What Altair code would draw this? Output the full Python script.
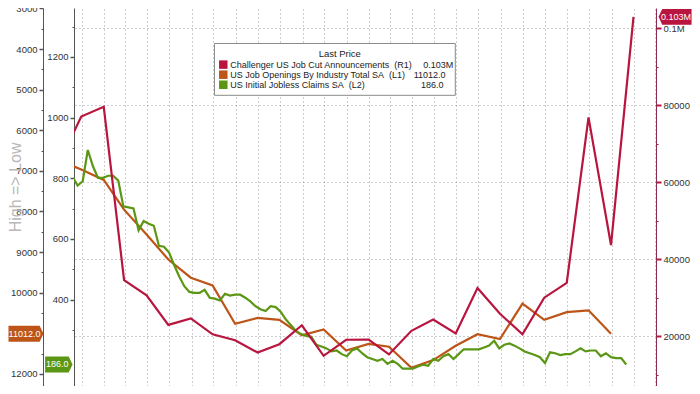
import altair as alt
import pandas as pd

# ---------------- data ----------------
month_ends = ["2020-11-30", "2020-12-31", "2021-01-31", "2021-02-28", "2021-03-31",
              "2021-04-30", "2021-05-31", "2021-06-30", "2021-07-31", "2021-08-31",
              "2021-09-30", "2021-10-31", "2021-11-30", "2021-12-31", "2022-01-31",
              "2022-02-28", "2022-03-31", "2022-04-30", "2022-05-31", "2022-06-30",
              "2022-07-31", "2022-08-31", "2022-09-30", "2022-10-31", "2022-11-30",
              "2022-12-31", "2023-01-31"]

# Challenger US Job Cut Announcements (R1), monthly
challenger_cuts = [64797, 77030, 79552, 34531, 30603, 22913, 24586, 20476, 18942, 15723,
                   17895, 22822, 14875, 19052, 19064, 15245, 21387, 24286, 20712, 32517,
                   25810, 20485, 29989, 33843, 76835, 43651, 102943]

# US Job Openings By Industry Total SA (L1), monthly (Nov 2020 - Dec 2022)
job_openings = [6740, 6964, 7224, 7955, 8569, 9182, 9630, 9819, 10763, 10621,
                10669, 11046, 10905, 11424, 11259, 11330, 11849, 11660, 11306, 11023,
                11140, 10268, 10669, 10480, 10433, 11012]

# US Initial Jobless Claims SA (L2), weekly from week ending 2020-12-19
claims_first_week = "2020-12-19"
jobless_claims = [805, 776, 790, 893, 840, 801, 801, 808, 808, 792,
                  707, 704, 700, 628, 659, 650, 643, 577, 574, 555,
                  514, 476, 444, 425, 422, 422, 432, 406, 403, 397,
                  419, 413, 416, 416, 406, 394, 378, 368, 362, 378,
                  375, 359, 334, 315, 296, 286, 280, 277, 251, 245,
                  239, 229, 232, 220, 213, 232, 239, 223, 210, 204,
                  198, 204, 188, 198, 188, 172, 172, 172, 179, 185,
                  182, 204, 198, 213, 220, 204, 220, 236, 236, 236,
                  236, 242, 248, 264, 239, 251, 255, 248, 239, 229,
                  223, 217, 210, 191, 226, 223, 217, 220, 220, 229,
                  239, 229, 232, 232, 213, 223, 210, 207, 207, 186]

series_names = ["Challenger US Job Cut Announcements", "US Job Openings By Industry Total SA",
                "US Initial Jobless Claims SA"]
series_tags = ["(R1)", "(L1)", "(L2)"]
last_values = ["0.103M", "11012.0", "186.0"]
legend_title = "Last Price"
axis_title = "High => Low"

orange_ticks = list(range(3000, 12001, 1000))
orange_minor = list(range(3500, 12001, 1000))
green_ticks = list(range(400, 1201, 200))
green_minor = list(range(300, 1301, 200))
red_ticks = list(range(20000, 100001, 20000))
red_minor = list(range(10000, 100001, 20000))
grid_months = [(2021, m) for m in range(1, 13)] + [(2022, m) for m in range(1, 13)] + \
              [(2023, 1), (2023, 2), (2023, 3)]

# ---------------- styling ----------------
RED = "#b8153f"
ORANGE = "#bd5418"
GREEN = "#5b9714"
AX = "#555555"
LBL = "#333333"
GRID = "#9a9a9a"
FONT = "Liberation Sans"

W, H = 582, 378
SX = W / 594.5
SY = H / 394.0


def px(rx):
    return (rx - 69.5) * SX


def py(ry):
    return ry * SY


red_df = pd.DataFrame({"date": month_ends, "v": challenger_cuts})
orange_df = pd.DataFrame({"date": month_ends[:len(job_openings)], "v": job_openings})
claim_dates = pd.date_range(claims_first_week, periods=len(jobless_claims), freq="7D").strftime("%Y-%m-%d")
green_df = pd.DataFrame({"date": list(claim_dates), "v": jobless_claims})

x_scale = alt.Scale(type="utc", domain=[alt.DateTime(year=2020, month=12, date=21, utc=True),
                                        alt.DateTime(year=2023, month=3, date=3, utc=True)])
x_axis = alt.Axis(orient="bottom", grid=True, gridDash=[1, 3], gridColor=GRID, gridWidth=1,
                  labels=False, ticks=False, domain=False, title=None,
                  values=[alt.DateTime(year=y, month=m, date=1, utc=True) for y, m in grid_months])
y_orange = alt.Scale(domain=[2990, 12297], reverse=True, zero=False, nice=False)
y_green = alt.Scale(domain=[115, 1361], zero=False, nice=False)
y_red = alt.Scale(domain=[7040, 105234], zero=False, nice=False)

lab = dict(title=None, labelFont=FONT, labelFontSize=9.5, labelColor=LBL, grid=False)


def minor_axis(orient, offset, values, color):
    return alt.Axis(orient=orient, offset=offset, values=values, labels=False, domain=False,
                    tickSize=2, tickColor=color, grid=False, title=None)


def badge(df, scale, color, path, size, cx, tx):
    shape = alt.Chart(df).mark_point(shape=path, size=size, filled=True, opacity=1,
                                     color=color, strokeWidth=0).encode(
        x=alt.value(cx), y=alt.Y("v:Q", scale=scale, axis=None))
    text = alt.Chart(df).mark_text(color="white", font=FONT, fontSize=9, align="center",
                                   baseline="middle").encode(
        x=alt.value(tx), y=alt.Y("v:Q", scale=scale, axis=None), text="t:N")
    return [shape, text]


# ---- orange: job openings (inverted, outer left axis)
orange_line = alt.Chart(orange_df).mark_line(color=ORANGE, strokeWidth=2.2, clip=True).encode(
    x=alt.X("date:T", scale=x_scale, axis=x_axis),
    y=alt.Y("v:Q", scale=y_orange,
            axis=alt.Axis(orient="left", offset=31, values=orange_ticks, tickSize=4,
                          tickWidth=1.5, labelPadding=2, domainColor=AX, tickColor=AX,
                          labelExpr="datum.value == 11000 ? '' : format(datum.value, 'd')", **lab)))
orange_m = alt.Chart(orange_df).mark_point(opacity=0).encode(
    y=alt.Y("v:Q", scale=y_orange, axis=minor_axis("left", 31, orange_minor, AX)))
ob_df = pd.DataFrame({"v": [job_openings[-1]], "t": [last_values[1]]})
orange = alt.layer(orange_line, orange_m,
                   *badge(ob_df, y_orange, ORANGE, "M-1,-0.46L0.78,-0.46L1,0L0.78,0.46L-1,0.46Z",
                          1225, -48, -49.5)).resolve_axis(y="independent")

# ---- green: jobless claims (inner left axis)
green_line = alt.Chart(green_df).mark_line(color=GREEN, strokeWidth=2.2, clip=True).encode(
    x=alt.X("date:T", scale=x_scale, axis=x_axis),
    y=alt.Y("v:Q", scale=y_green,
            axis=alt.Axis(orient="left", offset=0, values=green_ticks, format="d", tickSize=4,
                          tickWidth=1.5, labelPadding=2, domainColor=AX, tickColor=AX, **lab)))
green_m = alt.Chart(green_df).mark_point(opacity=0).encode(
    y=alt.Y("v:Q", scale=y_green, axis=minor_axis("left", 0, green_minor, AX)))
gb_df = pd.DataFrame({"v": [jobless_claims[-1]], "t": [last_values[2]]})
green = alt.layer(green_line, green_m,
                  *badge(gb_df, y_green, GREEN, "M-1,-0.58L0.72,-0.58L1,0L0.72,0.58L-1,0.58Z",
                         751, px(54), px(52.5))).resolve_axis(y="independent")

# ---- red: challenger (right axis, carries horizontal grid)
red_line = alt.Chart(red_df).mark_line(color=RED, strokeWidth=2.2, clip=True).encode(
    x=alt.X("date:T", scale=x_scale, axis=x_axis),
    y=alt.Y("v:Q", scale=y_red,
            axis=alt.Axis(orient="right", values=red_ticks, tickSize=5, tickWidth=2, labelPadding=2,
                          domainColor="#8a2b52", tickColor=RED, gridDash=[1, 3], gridColor=GRID,
                          labelExpr="datum.value >= 100000 ? '0.1M' : format(datum.value, 'd')",
                          title=None, labelFont=FONT, labelFontSize=9.5, labelColor=LBL, grid=True)))
red_m = alt.Chart(red_df).mark_point(opacity=0).encode(
    y=alt.Y("v:Q", scale=y_red, axis=minor_axis("right", 0, red_minor, RED)))
rb_df = pd.DataFrame({"v": [challenger_cuts[-1]], "t": [last_values[0]]})
red = alt.layer(red_line, red_m,
                *badge(rb_df, y_red, RED, "M1,-0.48L-0.78,-0.48L-1,0L-0.78,0.48L1,0.48Z",
                       1089, px(683.5), px(684.5))).resolve_axis(y="independent")

# ---- decorations: legend box and side title
one = pd.DataFrame({"a": [0]})
deco = [
    alt.Chart(one).mark_text(text=axis_title, angle=270, font=FONT, fontSize=16, color="#b8b8b8",
                             align="center", baseline="middle").encode(
        x=alt.value(px(10)), y=alt.value(py(187))),
    alt.Chart(one).mark_rect(fill="white", stroke="#8a8a8a", strokeWidth=1).encode(
        x=alt.value(px(213)), x2=alt.value(px(459)), y=alt.value(py(37)), y2=alt.value(py(91))),
    alt.Chart(one).mark_text(text=legend_title, font=FONT, fontSize=9.5, color="#222",
                             align="center", baseline="middle").encode(
        x=alt.value(px(341)), y=alt.value(py(48))),
]
row_y = [59, 69.5, 80]
val_right = [457, 449, 447]
colors = [RED, ORANGE, GREEN]
for i in range(3):
    d = pd.DataFrame({"name": [series_names[i] + "\u00a0\u00a0" + series_tags[i]],
                      "val": [last_values[i]]})
    deco.append(alt.Chart(d).mark_square(size=72, color=colors[i], opacity=1).encode(
        x=alt.value(px(222)), y=alt.value(py(row_y[i]))))
    deco.append(alt.Chart(d).mark_text(align="left", baseline="middle", font=FONT, fontSize=9,
                                       color="#222").encode(
        x=alt.value(px(229)), y=alt.value(py(row_y[i])), text="name:N"))
    deco.append(alt.Chart(d).mark_text(align="right", baseline="middle", font=FONT, fontSize=9,
                                       color="#222").encode(
        x=alt.value(px(val_right[i])), y=alt.value(py(row_y[i])), text="val:N"))

chart = alt.layer(orange, green, red, *deco).resolve_scale(y="independent").properties(
    width=W, height=H,
    autosize=alt.AutoSizeParams(type="none"),
    padding={"left": 66, "top": 0, "right": 36, "bottom": 0},
    background="white",
).configure_view(strokeWidth=0)

chart.save("out.html", embed_options={"renderer": "svg", "actions": False})
